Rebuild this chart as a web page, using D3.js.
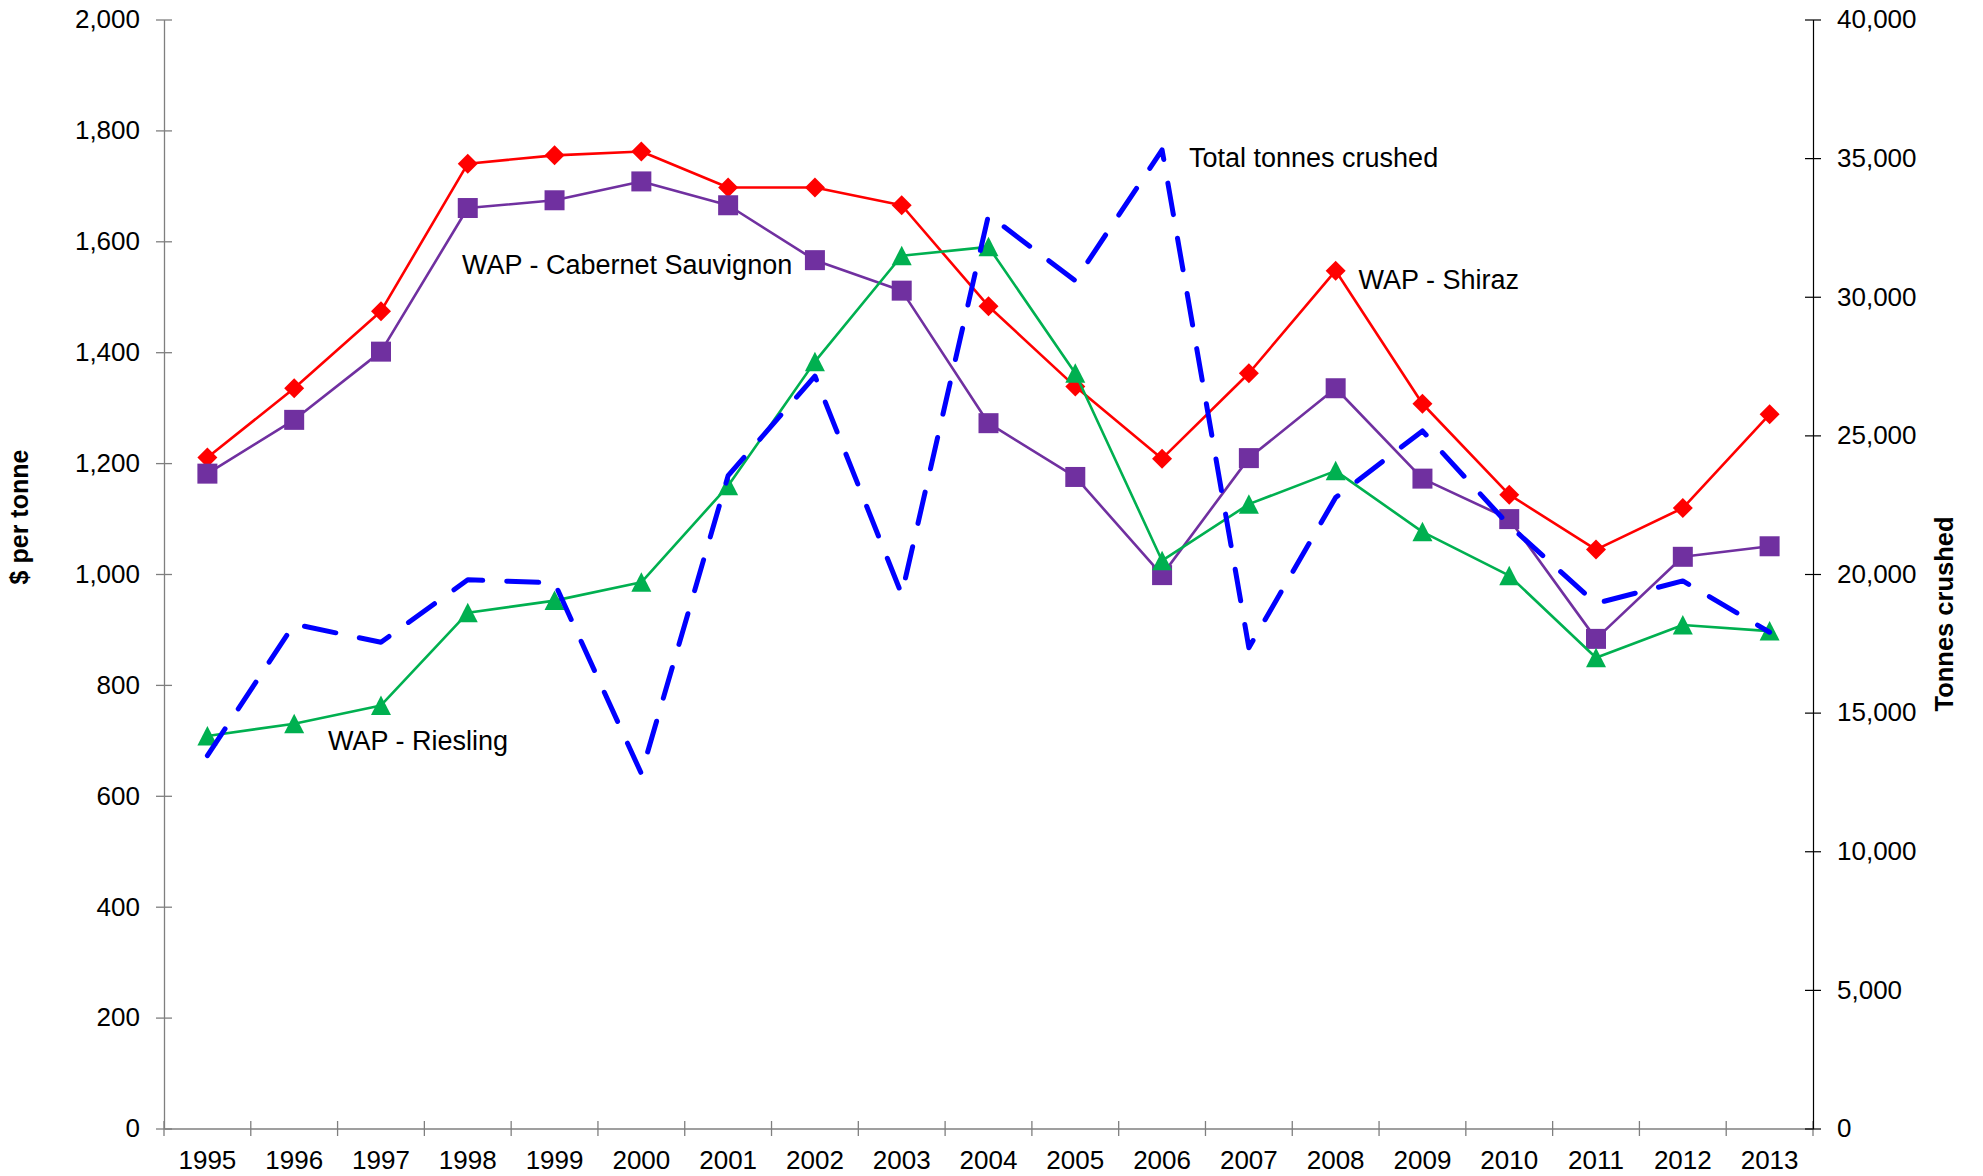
<!DOCTYPE html>
<html>
<head>
<meta charset="utf-8">
<script src="https://cdn.jsdelivr.net/npm/d3@7"></script>
<style>
  body { margin: 0; background: #fff; }
  text { font-family: "Liberation Sans", Arial, sans-serif; }
</style>
</head>
<body>
<svg id="chart" width="1983" height="1176"></svg>
<script>
// Vintage years
const years = ["1995","1996","1997","1998","1999","2000","2001","2002","2003","2004",
               "2005","2006","2007","2008","2009","2010","2011","2012","2013"];

// Weighted average price, $ per tonne
const shiraz   = [1210,1335,1474,1740,1755,1762,1697,1697,1665,1483,1338,1208,1362,1547,1307,1143,1044,1119,1288];
const cabernet = [1181,1278,1401,1660,1674,1708,1665,1566,1511,1272,1175, 998,1209,1335,1172,1099, 883,1031,1050];
const riesling = [ 708, 730, 763, 930, 952, 985,1159,1383,1574,1590,1362,1024,1126,1186,1076, 997, 849, 908, 897];

// Total tonnes crushed (right axis)
const tonnes = [13450,18190,17540,19790,19680,12800,23550,27140,19260,32950,30580,35300,17340,22760,25160,21750,18940,19750,17900];

// Axis ticks
const priceTicks = [0,200,400,600,800,1000,1200,1400,1600,1800,2000];
const tonneTicks = [0,5000,10000,15000,20000,25000,30000,35000,40000];

// Series labels
const labels = {
  cabernet: "WAP - Cabernet Sauvignon",
  shiraz: "WAP - Shiraz",
  riesling: "WAP - Riesling",
  tonnes: "Total tonnes crushed"
};

const svg = d3.select("#chart");
const L = 164, R = 1813, T = 19.5, B = 1128.5;
const fmt = d3.format(",");

const x = d3.scaleBand().domain(years).range([L, R]).padding(0);
const cx = (i) => x(years[i]) + x.bandwidth() / 2;
const yL = d3.scaleLinear().domain([0, 2000]).range([B, T]);
const yR = d3.scaleLinear().domain([0, 40000]).range([B, T]);

// ----- axes -----
const gx = svg.append("g").attr("transform", `translate(0,${B})`)
  .call(d3.axisBottom(x).tickSize(0).tickPadding(22).tickSizeOuter(0));
gx.select(".domain").attr("stroke", "#7f7f7f").attr("stroke-width", 1.3);
gx.selectAll("text").attr("font-size", 26).attr("fill", "#000");
gx.selectAll(".boundary").data([...years.map(d => x(d)), R]).join("line")
  .attr("class", "boundary")
  .attr("x1", d => d).attr("x2", d => d)
  .attr("y1", -7.5).attr("y2", 7.5)
  .attr("stroke", "#7f7f7f").attr("stroke-width", 1.3);

const gl = svg.append("g").attr("transform", `translate(${L},0)`)
  .call(d3.axisLeft(yL).tickValues(priceTicks).tickFormat(fmt).tickSize(8).tickPadding(16).tickSizeOuter(0));
gl.select(".domain").attr("stroke", "#7f7f7f").attr("stroke-width", 1.3);
gl.selectAll(".tick line").attr("x1", 8).attr("stroke", "#7f7f7f").attr("stroke-width", 1.3);
gl.selectAll("text").attr("font-size", 26).attr("fill", "#000");

const gr = svg.append("g").attr("transform", `translate(${R},0)`)
  .call(d3.axisRight(yR).tickValues(tonneTicks).tickFormat(fmt).tickSize(8).tickPadding(16).tickSizeOuter(0));
gr.select(".domain").attr("stroke", "#000").attr("stroke-width", 1.2);
gr.selectAll(".tick line").attr("x1", -8).attr("stroke", "#000").attr("stroke-width", 1.2);
gr.selectAll("text").attr("font-size", 26).attr("fill", "#000");

// axis titles
svg.append("text")
  .attr("transform", "translate(28,517) rotate(-90)")
  .attr("text-anchor", "middle").attr("font-size", 25).attr("font-weight", "bold")
  .text("$ per tonne");
svg.append("text")
  .attr("transform", "translate(1953,614) rotate(-90)")
  .attr("text-anchor", "middle").attr("font-size", 25.5).attr("font-weight", "bold")
  .text("Tonnes crushed");

// ----- marker shapes -----
const diamond = { draw(ctx, size) { const r = Math.sqrt(size) / 2;
  ctx.moveTo(0, -r); ctx.lineTo(r, 0); ctx.lineTo(0, r); ctx.lineTo(-r, 0); ctx.closePath(); } };
const square = { draw(ctx, size) { const r = Math.sqrt(size) / 2;
  ctx.rect(-r, -r, 2 * r, 2 * r); } };
const triangle = { draw(ctx, size) { const r = Math.sqrt(size) / 2;
  ctx.moveTo(0, -r); ctx.lineTo(r, r * 0.95); ctx.lineTo(-r, r * 0.95); ctx.closePath(); } };

function priceSeries(values, color, shape, size) {
  const g = svg.append("g");
  g.append("path").datum(values)
    .attr("fill", "none").attr("stroke", color).attr("stroke-width", 2.6)
    .attr("stroke-linejoin", "round")
    .attr("d", d3.line().x((d, i) => cx(i)).y(d => yL(d)));
  g.selectAll("path.m").data(values).join("path").attr("class", "m")
    .attr("transform", (d, i) => `translate(${cx(i)},${yL(d)})`)
    .attr("d", d3.symbol().type(shape).size(size * size))
    .attr("fill", color);
}

priceSeries(shiraz, "#ff0000", diamond, 20);
priceSeries(cabernet, "#7030a0", square, 20);
priceSeries(riesling, "#00b050", triangle, 20);

// tonnes crushed, dashed, on the secondary axis
svg.append("path").datum(tonnes)
  .attr("fill", "none").attr("stroke", "#0000ff").attr("stroke-width", 5)
  .attr("stroke-dasharray", "32,24").attr("stroke-linecap", "round").attr("stroke-linejoin", "round")
  .attr("d", d3.line().x((d, i) => cx(i)).y(d => yR(d)));

// series labels
const lab = [
  [labels.cabernet, 462, 273.5],
  [labels.tonnes, 1189, 166.5],
  [labels.shiraz, 1358.5, 289],
  [labels.riesling, 328, 750]
];
svg.selectAll("text.series").data(lab).join("text").attr("class", "series")
  .attr("x", d => d[1]).attr("y", d => d[2])
  .attr("font-size", 27).attr("fill", "#000")
  .text(d => d[0]);
</script>
</body>
</html>
